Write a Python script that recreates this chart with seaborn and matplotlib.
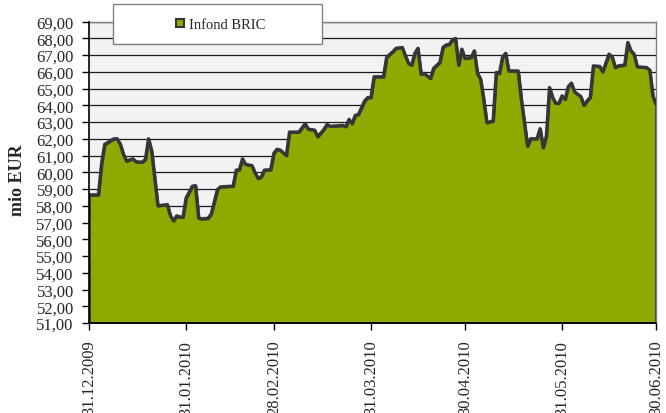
import matplotlib
matplotlib.use("Agg")
import matplotlib.pyplot as plt
from matplotlib.lines import Line2D
from matplotlib.patches import Rectangle
import seaborn as sns
import pandas as pd

# ---- data ----
dates = [
    "2009-12-31", "2010-01-03", "2010-01-04", "2010-01-05", "2010-01-06", "2010-01-07",
    "2010-01-08", "2010-01-09", "2010-01-10", "2010-01-11", "2010-01-12", "2010-01-14",
    "2010-01-15", "2010-01-17", "2010-01-18", "2010-01-19", "2010-01-20", "2010-01-22",
    "2010-01-25", "2010-01-26", "2010-01-27", "2010-01-28", "2010-01-29", "2010-01-30",
    "2010-01-31", "2010-02-02", "2010-02-03", "2010-02-04", "2010-02-05", "2010-02-07",
    "2010-02-08", "2010-02-10", "2010-02-11", "2010-02-15", "2010-02-16", "2010-02-17",
    "2010-02-18", "2010-02-19", "2010-02-21", "2010-02-22", "2010-02-23", "2010-02-24",
    "2010-02-25", "2010-02-27", "2010-02-28", "2010-03-01", "2010-03-02", "2010-03-04",
    "2010-03-05", "2010-03-08", "2010-03-10", "2010-03-11", "2010-03-13", "2010-03-14",
    "2010-03-16", "2010-03-17", "2010-03-18", "2010-03-22", "2010-03-23", "2010-03-24",
    "2010-03-25", "2010-03-26", "2010-03-27", "2010-03-29", "2010-03-30", "2010-03-31",
    "2010-04-01", "2010-04-04", "2010-04-05", "2010-04-07", "2010-04-08", "2010-04-10",
    "2010-04-11", "2010-04-12", "2010-04-13", "2010-04-14", "2010-04-15", "2010-04-16",
    "2010-04-17", "2010-04-19", "2010-04-20", "2010-04-22", "2010-04-23", "2010-04-24",
    "2010-04-25", "2010-04-26", "2010-04-27", "2010-04-28", "2010-04-29", "2010-04-30",
    "2010-05-02", "2010-05-03", "2010-05-04", "2010-05-05", "2010-05-06", "2010-05-07",
    "2010-05-09", "2010-05-10", "2010-05-11", "2010-05-12", "2010-05-13", "2010-05-14",
    "2010-05-17", "2010-05-18", "2010-05-20", "2010-05-21", "2010-05-23", "2010-05-24",
    "2010-05-25", "2010-05-26", "2010-05-27", "2010-05-28", "2010-05-29", "2010-05-30",
    "2010-05-31", "2010-06-01", "2010-06-02", "2010-06-03", "2010-06-04", "2010-06-05",
    "2010-06-06", "2010-06-07", "2010-06-08", "2010-06-09", "2010-06-10", "2010-06-12",
    "2010-06-13", "2010-06-15", "2010-06-16", "2010-06-17", "2010-06-18", "2010-06-20",
    "2010-06-21", "2010-06-22", "2010-06-23", "2010-06-24", "2010-06-27", "2010-06-28",
    "2010-06-29", "2010-06-30",
]
infond_bric = [
    58.65, 58.65, 60.50, 61.67, 61.77, 61.90,
    62.00, 62.00, 61.67, 61.07, 60.67, 60.80,
    60.63, 60.60, 60.77, 62.00, 61.27, 58.00,
    58.07, 57.40, 57.10, 57.40, 57.33, 57.33,
    58.47, 59.17, 59.20, 57.27, 57.22, 57.25,
    57.50, 58.97, 59.13, 59.17, 60.13, 60.15,
    60.80, 60.47, 60.40, 59.97, 59.63, 59.73,
    60.13, 60.15, 61.13, 61.37, 61.33, 61.00,
    62.40, 62.40, 62.90, 62.57, 62.52, 62.12,
    62.56, 62.86, 62.74, 62.80, 62.72, 63.16,
    62.90, 63.40, 63.45, 64.26, 64.46, 64.46,
    65.70, 65.70, 66.86, 67.20, 67.40, 67.45,
    66.95, 66.50, 66.40, 67.10, 67.40, 65.85,
    65.90, 65.60, 66.20, 66.56, 67.45, 67.60,
    67.63, 67.90, 67.99, 66.40, 67.35, 66.80,
    66.85, 67.25, 65.90, 65.56, 64.36, 62.96,
    63.06, 65.96, 65.90, 66.86, 67.10, 66.05,
    66.05, 64.36, 61.56, 62.00, 62.00, 62.60,
    61.47, 62.16, 65.06, 64.46, 64.12, 64.12,
    64.56, 64.36, 65.12, 65.32, 64.80, 64.66,
    64.52, 64.00, 64.26, 64.46, 66.35, 66.32,
    66.00, 67.05, 66.90, 66.25, 66.35, 66.40,
    67.75, 67.25, 67.05, 66.30, 66.25, 66.10,
    64.56, 64.06,
]
tick_dates = ["2009-12-31", "2010-01-31", "2010-02-28", "2010-03-31",
              "2010-04-30", "2010-05-31", "2010-06-30"]
tick_labels = ["31.12.2009", "31.01.2010", "28.02.2010", "31.03.2010",
               "30.04.2010", "31.05.2010", "30.06.2010"]
series_name = "Infond BRIC"
y_label = "mio EUR"
y_min, y_max = 51, 69

# ---- styling ----
sns.set_style("ticks")
plt.rcParams["font.family"] = ["Liberation Serif", "DejaVu Serif"]

GREEN = "#8fa900"
LINE = "#363636"

df = pd.DataFrame({"date": pd.to_datetime(dates), "value": infond_bric})

fig = plt.figure(figsize=(6.66, 4.14), dpi=100)
ax = fig.add_axes([89 / 666, 1 - 324 / 414, (656 - 89) / 666, (324 - 22.5) / 414])
ax.set_facecolor("#f2f2f2")

# horizontal gridlines
for v in range(y_min, y_max + 1):
    ax.axhline(v, color="#1a1a1a", lw=0.9, zorder=1)

ax.fill_between(df["date"], df["value"], y_min, facecolor=GREEN,
                edgecolor=LINE, linewidth=2.0, zorder=2)
sns.lineplot(data=df, x="date", y="value", ax=ax, color=LINE, lw=2.4,
             zorder=3, legend=False)

ax.set_xlim(pd.Timestamp(tick_dates[0]), pd.Timestamp(tick_dates[-1]))
ax.set_ylim(y_min, y_max)

ax.set_xticks(pd.to_datetime(tick_dates))
ax.set_xticklabels(tick_labels, rotation=90, fontsize=12)
ax.set_yticks(range(y_min, y_max + 1))
ax.set_yticklabels([f"{v},00" for v in range(y_min, y_max + 1)], fontsize=12)
ax.tick_params(axis="both", direction="out", length=5, width=1, color="black", pad=6)
ax.tick_params(axis="x", pad=7)
ax.set_xlabel("")
ax.set_ylabel("")

for side in ["left", "bottom"]:
    ax.spines[side].set_color("black")
    ax.spines[side].set_linewidth(1.2)
    ax.spines[side].set_zorder(4)
for side in ["top", "right"]:
    ax.spines[side].set_visible(True)
    ax.spines[side].set_color("#808080")
    ax.spines[side].set_linewidth(1.0)

fig.text(18 / 666, 1 - 180 / 414, y_label, rotation=90, ha="center", va="center",
         fontsize=13, fontweight="bold")

# legend box
fig.patches.append(Rectangle((113 / 666, 1 - 45 / 414), (322 - 113) / 666, 40 / 414,
                             transform=fig.transFigure, facecolor="white",
                             edgecolor="#808080", linewidth=1.0, zorder=3))
handle = Line2D([], [], marker="s", linestyle="none", markersize=6,
                markerfacecolor=GREEN, markeredgecolor=LINE, markeredgewidth=1.5)
leg = fig.legend([handle], [series_name], loc="center",
                 bbox_to_anchor=(220 / 666, 1 - 25 / 414), frameon=False,
                 fontsize=10.5, handletextpad=0.2, handlelength=0.8,
                 borderpad=0.0)
leg.set_zorder(6)

fig.savefig("out.png", dpi=100)
